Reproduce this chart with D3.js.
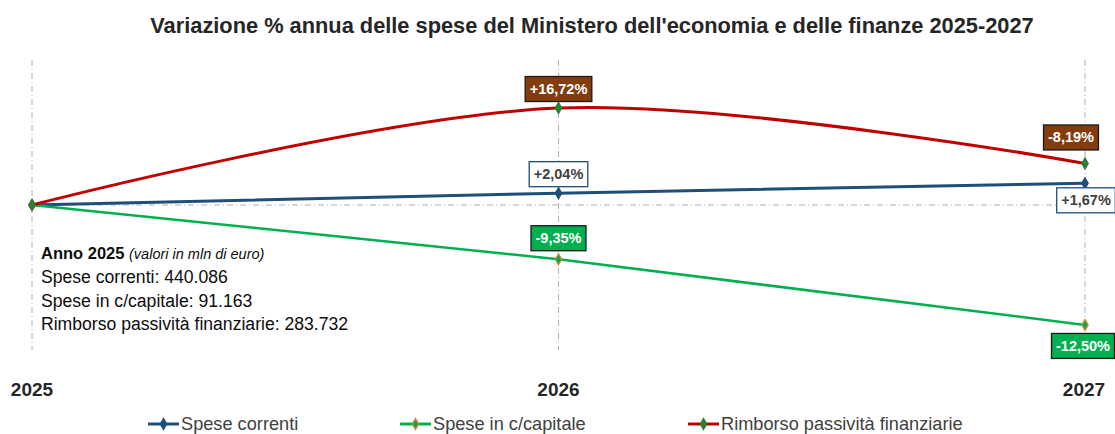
<!DOCTYPE html>
<html>
<head>
<meta charset="utf-8">
<script src="https://cdn.jsdelivr.net/npm/d3@7"></script>
<style>
  body { margin: 0; background: #fff; }
  svg { font-family: "Liberation Sans", Arial, sans-serif; }
</style>
</head>
<body>
<div id="chart"></div>
<script>
// categories
const years = ["2025", "2026", "2027"];
// cumulative variation vs 2025 as plotted (%)
const speseCorrenti = [0, 2.04, 3.74];
const speseCapitale = [0, -9.35, -20.68];
const rimborso = [0, 16.72, 7.16];
// annual variation labels
const lblCorrenti = ["", "+2,04%", "+1,67%"];
const lblCapitale = ["", "-9,35%", "-12,50%"];
const lblRimborso = ["", "+16,72%", "-8,19%"];
const seriesNames = ["Spese correnti", "Spese in c/capitale", "Rimborso passività finanziarie"];
const infoLines = ["Spese correnti: 440.086", "Spese in c/capitale: 91.163", "Rimborso passività finanziarie: 283.732"];

const W = 1115, H = 434;
const svg = d3.select("#chart").append("svg")
    .attr("width", W)
    .attr("height", H);

// scales
const x = d3.scalePoint()
    .domain(years)
    .range([32, 1085]);

const y = d3.scaleLinear()
    .domain([-25, 25])
    .range([350, 60]);

const grid = "#b0b0b0";

// vertical gridlines
svg.append("g").selectAll("line")
    .data(years)
    .enter()
    .append("line")
    .attr("x1", d => x(d))
    .attr("x2", d => x(d))
    .attr("y1", y(25))
    .attr("y2", y(-25))
    .attr("stroke", grid)
    .attr("stroke-width", 1)
    .attr("stroke-dasharray", "6,3,1,3");

// zero line
svg.append("line")
    .attr("x1", x(years[0]))
    .attr("x2", x(years[2]))
    .attr("y1", y(0))
    .attr("y2", y(0))
    .attr("stroke", grid)
    .attr("stroke-width", 1)
    .attr("stroke-dasharray", "6,3,1,3");

// title
svg.append("text")
    .attr("x", 592)
    .attr("y", 33)
    .attr("text-anchor", "middle")
    .style("font-size", "21.8px")
    .style("font-weight", "bold")
    .style("fill", "#262626")
    .text("Variazione % annua delle spese del Ministero dell'economia  e delle finanze 2025-2027");

// x axis labels
svg.append("g").selectAll("text")
    .data(years)
    .enter()
    .append("text")
    .attr("x", (d, i) => x(d) + (i === 2 ? -1 : 0))
    .attr("y", 396)
    .attr("text-anchor", "middle")
    .style("font-size", "19px")
    .style("font-weight", "bold")
    .style("fill", "#262626")
    .text(d => d);

const series = [
    { name: seriesNames[0], values: speseCorrenti, labels: lblCorrenti, color: "#1F4E79", width: 3,
      marker: "#1F4E79", markerStroke: "#1F4E79", curve: d3.curveLinear,
      boxFill: "#fff", boxStroke: "#1F4E79", textFill: "#404040",
      pos: [null, { dx: 0, dy: -19 }, { dx: 1, dy: 17 }] },
    { name: seriesNames[1], values: speseCapitale, labels: lblCapitale, color: "#00B050", width: 2.5,
      marker: "#00B050", markerStroke: "#ED7D31", curve: d3.curveLinear,
      boxFill: "#00B050", boxStroke: "#1a1a1a", textFill: "#fff",
      pos: [null, { dx: 0, dy: -21 }, { dx: -2, dy: 21 }] },
    { name: seriesNames[2], values: rimborso, labels: lblRimborso, color: "#C00000", width: 3,
      marker: "#2E7D32", markerStroke: "#2E7D32", curve: d3.curveCardinal,
      boxFill: "#843C0C", boxStroke: "#1a1a1a", textFill: "#fff",
      pos: [null, { dx: 0, dy: -19 }, { dx: -14, dy: -26 }] }
];

const diamond = d3.symbol().type(d3.symbolDiamond).size(36);

series.forEach(s => {
    const line = d3.line()
        .x((d, i) => x(years[i]))
        .y(d => y(d))
        .curve(s.curve);

    svg.append("path")
        .datum(s.values)
        .attr("d", line)
        .attr("fill", "none")
        .attr("stroke", s.color)
        .attr("stroke-width", s.width);

    svg.append("g").selectAll("path")
        .data(s.values)
        .enter()
        .append("path")
        .attr("d", diamond)
        .attr("transform", (d, i) => `translate(${x(years[i])},${y(d)})`)
        .attr("fill", s.marker)
        .attr("stroke", s.markerStroke)
        .attr("stroke-width", 1.2);
});

// data labels
series.forEach(s => {
    s.values.forEach((v, i) => {
        if (!s.labels[i]) return;
        const cx = x(years[i]) + s.pos[i].dx;
        const cy = y(v) + s.pos[i].dy;
        const g = svg.append("g");
        const t = g.append("text")
            .attr("x", cx)
            .attr("y", cy + 5)
            .attr("text-anchor", "middle")
            .style("font-size", "14.5px")
            .style("font-weight", "bold")
            .style("fill", s.textFill)
            .text(s.labels[i]);
        const bw = t.node().getComputedTextLength() + 9;
        g.insert("rect", "text")
            .attr("x", cx - bw / 2)
            .attr("y", cy - 12.5)
            .attr("width", bw)
            .attr("height", 25)
            .attr("fill", s.boxFill)
            .attr("stroke", s.boxStroke)
            .attr("stroke-width", 1.3);
    });
});

// info text block
const info = svg.append("text")
    .attr("x", 41)
    .attr("y", 259)
    .style("fill", "#0d0d0d");
info.append("tspan")
    .style("font-size", "16.5px")
    .style("font-weight", "bold")
    .text("Anno 2025 ");
info.append("tspan")
    .style("font-size", "14.5px")
    .style("font-style", "italic")
    .text("(valori in mln di euro)");

svg.append("g").selectAll("text")
    .data(infoLines)
    .enter()
    .append("text")
    .attr("x", 41)
    .attr("y", (d, i) => 283 + i * 23.5)
    .style("font-size", "17.6px")
    .style("fill", "#0d0d0d")
    .text(d => d);

// legend
const legendX = [148, 400, 688];
const legend = svg.append("g").selectAll("g")
    .data(series)
    .enter()
    .append("g")
    .attr("transform", (d, i) => `translate(${legendX[i]},424)`);

legend.append("line")
    .attr("x1", 0)
    .attr("x2", 31)
    .attr("stroke", d => d.color)
    .attr("stroke-width", 3);

legend.append("path")
    .attr("d", diamond)
    .attr("transform", "translate(15.5,0)")
    .attr("fill", d => d.marker)
    .attr("stroke", d => d.markerStroke)
    .attr("stroke-width", 1.2);

legend.append("text")
    .attr("x", 33)
    .attr("y", 6)
    .style("font-size", "18.2px")
    .style("fill", "#404040")
    .text(d => d.name);
</script>
</body>
</html>
